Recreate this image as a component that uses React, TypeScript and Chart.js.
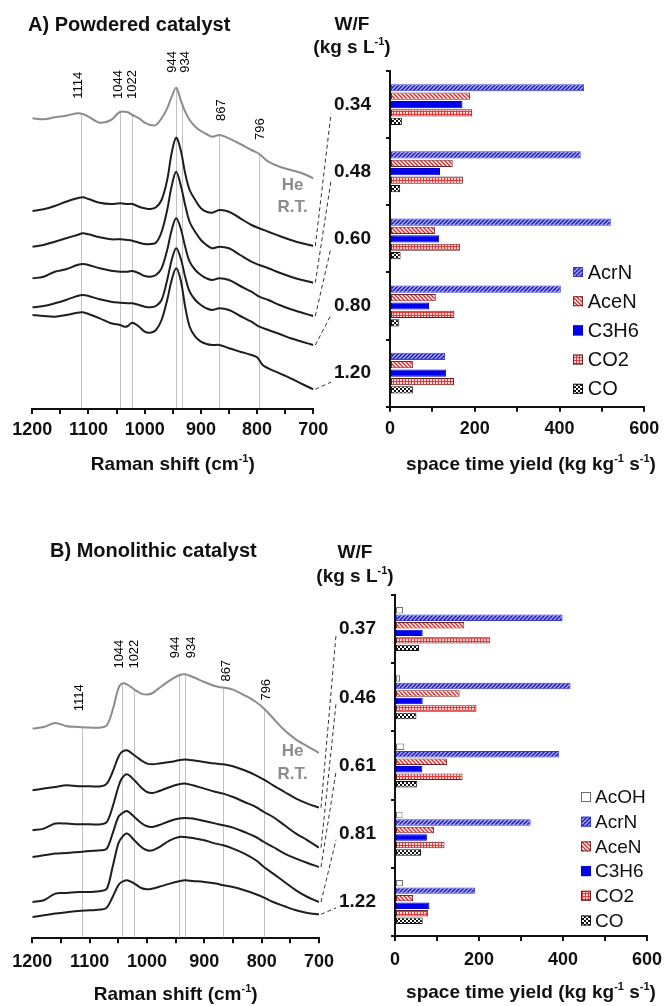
import React, { useEffect, useRef } from 'react';
import { Chart, registerables } from 'chart.js';

Chart.register(...registerables);

const FONT = '"Liberation Sans", Arial, Helvetica, sans-serif';
Chart.defaults.font.family = FONT;
Chart.defaults.color = '#111';

// ================= Panel A: powdered catalyst, Raman spectra =================
const ramanShiftA = [1200, 1180, 1160, 1140, 1120, 1110, 1100, 1080, 1060, 1044, 1030, 1022, 1010, 1000, 990, 980, 970, 960, 952, 944, 936, 928, 920, 910, 900, 890, 880, 867, 850, 830, 810, 796, 780, 760, 740, 720, 700];
const heRtA = [290.7, 289.7, 291.7, 293.3, 295.7, 295, 292.3, 286.3, 289, 297, 296.7, 294, 290.7, 286.3, 284, 284, 290.7, 300.7, 312.3, 321.3, 309, 297.3, 289, 282.3, 278, 275, 272.3, 274, 270.7, 265, 259, 255, 247.3, 242.3, 239, 235.7, 230.7];
const wf034 = [198, 199.7, 203, 207.3, 210.7, 211.7, 210, 206.3, 205, 205.7, 205, 205, 202.3, 200.7, 200, 201.7, 209, 229, 256, 271.3, 259, 235.7, 219, 209, 200.7, 197.3, 196.3, 199, 197.3, 190.7, 184, 180.7, 177.3, 173, 169, 165.7, 163];
const wf048 = [162.3, 164, 167.3, 170.7, 174, 175.7, 174.7, 171.7, 169.7, 169.7, 169, 168.3, 166.3, 165, 165, 166.3, 177, 199, 223, 237.3, 224, 204, 187, 177, 169, 164, 160.7, 162.3, 160.7, 154, 147.3, 144, 140.7, 136.3, 132.3, 129, 126.3];
const wf060 = [130.7, 132.3, 137.3, 139.7, 144, 145, 144, 140.7, 138.3, 137.3, 137.3, 138, 135.7, 133, 132.3, 134, 140.7, 159, 179, 190.7, 180.7, 162.3, 147.3, 139, 134, 130.7, 129, 130.7, 129, 123, 117.3, 112.3, 109, 104, 99.7, 96.3, 93];
const wf080 = [101.7, 103, 105.7, 109, 113, 114, 113, 109.7, 107.3, 106.3, 105.7, 105.7, 104, 102.3, 101.7, 103, 109, 129, 149, 160.7, 150.7, 132.3, 117.3, 109, 104, 100.7, 99, 100.7, 99, 93, 87.3, 82.3, 79, 75, 70.7, 67.3, 64];
const ramanShiftA120 = [1200, 1180, 1160, 1140, 1120, 1110, 1100, 1080, 1060, 1044, 1035, 1030, 1022, 1010, 1000, 990, 980, 970, 960, 952, 944, 936, 928, 920, 910, 900, 890, 880, 867, 850, 830, 810, 800, 790, 780, 760, 740, 720, 700];
const wf120 = [94, 93, 92.3, 94, 96.3, 96.7, 95, 90.7, 85.7, 84, 82.3, 83, 86.3, 82.3, 77.3, 76.3, 79, 89, 109, 129, 140.7, 129, 102.3, 82.3, 72.3, 67.3, 65, 64, 64, 60.7, 57.3, 54, 51.7, 44, 40.7, 35.7, 30.7, 25, 19.7];

// ================= Panel B: monolithic catalyst, Raman spectra =================
const ramanShiftB = [1200, 1180, 1160, 1140, 1120, 1100, 1080, 1070, 1060, 1050, 1044, 1035, 1022, 1010, 1000, 990, 980, 960, 944, 934, 920, 900, 880, 867, 850, 830, 810, 796, 780, 760, 740, 720, 700];
const heRtB = [209.7, 211.3, 215.3, 212, 211.3, 210.7, 210.7, 213, 228, 249.7, 254.7, 254, 248.7, 244.7, 243.7, 245.3, 249.7, 258, 263, 264, 261.3, 256.3, 252, 250.7, 248.7, 243, 236.3, 229.7, 220, 208, 198.7, 192, 185.3];
const wf037 = [148, 149.7, 151.3, 153, 152, 152, 152, 154.7, 166.3, 181.3, 186.3, 188, 183, 178, 174.7, 174, 174.7, 176.3, 178, 178.7, 178, 176.3, 174.7, 174, 172, 168, 163, 158.7, 153, 146.3, 139.7, 134.7, 130.7];
const wf046 = [108, 109.7, 114.7, 114.7, 114, 114, 114, 116.3, 131.3, 151.3, 159.7, 164, 158, 150.7, 146.3, 145.3, 147, 151.3, 154, 154.7, 153, 149.7, 146.3, 144.7, 141.3, 136.3, 131.3, 126.3, 121.3, 113, 104.7, 98, 90.7];
const wf061 = [81.3, 83, 84.7, 85.3, 86.3, 87.3, 88, 89.7, 104.7, 121.3, 124.7, 127.3, 121.3, 115.3, 112, 111.3, 113, 117.3, 119.7, 120.3, 119.7, 117.3, 114.7, 113, 110.7, 106.3, 101.3, 96.3, 91.3, 84.7, 79.7, 75.3, 71.3];
const wf081 = [36.3, 38, 44.7, 45.3, 46.3, 46.3, 47.3, 49.7, 71.3, 94.7, 100.7, 104.7, 98, 91.3, 88, 88, 90.7, 98, 101.3, 101.3, 100.3, 98, 94.7, 93, 89.7, 84.7, 78, 71.3, 64.7, 56.3, 48, 41.3, 36.3];
const wf122 = [21.3, 23, 24.7, 26, 27.3, 28, 28.7, 30.7, 41.3, 53, 56.3, 58, 54.7, 50.3, 49, 49.7, 51.3, 54.7, 57, 58, 57.3, 56.3, 54.7, 53, 51.3, 48, 44, 40.7, 36.3, 32, 28, 25.3, 24];

const peakShifts = [1114, 1044, 1022, 944, 934, 867, 796];
const ramanTickLabels = [1200, 1100, 1000, 900, 800, 700];
const styTickLabels = [0, 200, 400, 600];

// ================= Space time yields (kg kg-1 s-1) =================
const wfLabelsA = ['0.34', '0.48', '0.60', '0.80', '1.20'];
const acrnA = [458, 450, 521, 403, 130];
const acenA = [189, 148, 106, 108, 54];
const c3h6A = [171, 118, 116, 92, 132];
const co2A = [194, 172, 165, 152, 151];
const coA = [28, 24, 25, 22, 54];

const wfLabelsB = ['0.37', '0.46', '0.61', '0.81', '1.22'];
const acohB = [19, 12, 22, 18, 19];
const acrnB = [399, 418, 391, 323, 191];
const acenB = [165, 154, 124, 93, 43];
const c3h6B = [66, 66, 65, 76, 82];
const co2B = [227, 194, 161, 118, 79];
const coB = [57, 51, 53, 62, 66];

// ---------------------------------------------------------------------------
type Seg = { t: string; sup?: boolean };

function drawRich(ctx: CanvasRenderingContext2D, segs: Seg[], cx: number, cy: number, size: number, color = '#111', weight = 'bold') {
  const supSize = Math.round(size * 0.6);
  const fontOf = (g: Seg) => `${weight} ${g.sup ? supSize : size}px ${FONT}`;
  let total = 0;
  for (const g of segs) {
    ctx.font = fontOf(g);
    total += ctx.measureText(g.t).width;
  }
  let x = cx - total / 2;
  ctx.save();
  ctx.fillStyle = color;
  ctx.textAlign = 'left';
  ctx.textBaseline = 'middle';
  for (const g of segs) {
    ctx.font = fontOf(g);
    ctx.fillText(g.t, x, g.sup ? cy - size * 0.32 : cy);
    x += ctx.measureText(g.t).width;
  }
  ctx.restore();
}

function yOnLine(chart: any, dsIndex: number, value: number): number {
  const meta = chart.getDatasetMeta(dsIndex);
  const px = chart.scales.x.getPixelForValue(value);
  const pts = meta.data;
  for (let i = 0; i < pts.length - 1; i++) {
    const a = pts[i];
    const b = pts[i + 1];
    const lo = Math.min(a.x, b.x);
    const hi = Math.max(a.x, b.x);
    if (px >= lo && px <= hi) {
      const t = (px - a.x) / ((b.x - a.x) || 1);
      return a.y + t * (b.y - a.y);
    }
  }
  return chart.chartArea.top;
}

interface PeakLabel { v: number; ref: number; gap: number; dx: number }
interface SpectraSpec {
  series: { x: number[]; y: number[]; color: string }[];
  yMax: number;
  padding: { left: number; right: number; top: number; bottom: number };
  tickPad: number;
  title: string;
  titleX: number;
  titleY: number;
  peakLabels: PeakLabel[];
  he: { x: number; y1: number; y2: number };
  axisTitleY: number;
}

function makeSpectra(canvas: HTMLCanvasElement, spec: SpectraSpec): Chart {
  const decor = {
    id: 'spectraDecor',
    beforeDatasetsDraw(chart: any) {
      const ctx = chart.ctx as CanvasRenderingContext2D;
      const xs = chart.scales.x;
      const bottom = chart.chartArea.bottom - 1;
      ctx.save();
      ctx.strokeStyle = '#c2c2c2';
      ctx.lineWidth = 1;
      for (const v of peakShifts) {
        const px = Math.round(xs.getPixelForValue(v)) + 0.5;
        const top = yOnLine(chart, 0, v);
        ctx.beginPath();
        ctx.moveTo(px, top);
        ctx.lineTo(px, bottom);
        ctx.stroke();
      }
      ctx.restore();
    },
    afterDraw(chart: any) {
      const ctx = chart.ctx as CanvasRenderingContext2D;
      const xs = chart.scales.x;
      const area = chart.chartArea;
      // peak labels
      ctx.save();
      ctx.font = `13px ${FONT}`;
      ctx.fillStyle = '#000';
      for (const p of spec.peakLabels) {
        const px = xs.getPixelForValue(p.v) + p.dx;
        const top = yOnLine(chart, 0, p.ref) - p.gap;
        ctx.save();
        ctx.translate(px, top);
        ctx.rotate(-Math.PI / 2);
        ctx.textAlign = 'left';
        ctx.textBaseline = 'middle';
        ctx.fillText(String(p.v), 0, 0);
        ctx.restore();
      }
      ctx.restore();
      // panel title
      ctx.save();
      ctx.font = `bold 20px ${FONT}`;
      ctx.fillStyle = '#111';
      ctx.textAlign = 'left';
      ctx.textBaseline = 'middle';
      ctx.fillText(spec.title, spec.titleX, spec.titleY);
      // He R.T.
      ctx.font = `bold 17px ${FONT}`;
      ctx.fillStyle = '#8c8c8c';
      ctx.textAlign = 'center';
      ctx.fillText('He', spec.he.x, spec.he.y1);
      ctx.fillText('R.T.', spec.he.x, spec.he.y2);
      ctx.restore();
      // axis title
      drawRich(ctx, [{ t: 'Raman shift (cm' }, { t: '-1', sup: true }, { t: ')' }], (area.left + area.right) / 2, spec.axisTitleY, 19);
    },
  };

  return new Chart(canvas, {
    type: 'line',
    data: {
      datasets: spec.series.map((s) => ({
        data: s.x.map((x, i) => ({ x, y: s.y[i] })),
        borderColor: s.color,
        borderWidth: 2,
        pointRadius: 0,
        tension: 0.35,
        fill: false,
      })),
    },
    options: {
      responsive: false,
      animation: false,
      devicePixelRatio: 1,
      layout: { padding: spec.padding },
      plugins: { legend: { display: false }, tooltip: { enabled: false } },
      scales: {
        x: {
          type: 'linear',
          reverse: true,
          min: 700,
          max: 1200,
          afterFit: (s: any) => { s.height = 40; },
          border: { display: true, color: '#111', width: 2 },
          grid: { drawOnChartArea: false, drawTicks: true, tickLength: 5, color: '#111', lineWidth: 2 },
          ticks: {
            stepSize: 50,
            autoSkip: false,
            maxRotation: 0,
            padding: spec.tickPad,
            color: '#111',
            font: { size: 18, weight: 'bold' },
            callback: (v: any) => (ramanTickLabels.includes(Number(v)) ? String(v) : ''),
          },
        },
        y: { display: false, min: 0, max: spec.yMax },
      },
    } as any,
    plugins: [decor],
  });
}

// ---------------- patterns ----------------
function tile(size: number, draw: (g: CanvasRenderingContext2D) => void): CanvasPattern {
  const c = document.createElement('canvas');
  c.width = size;
  c.height = size;
  const g = c.getContext('2d')!;
  draw(g);
  return g.createPattern(c, 'repeat')!;
}

function makePatterns() {
  const acrn = tile(4, (g) => {
    g.fillStyle = '#c4c4f6';
    g.fillRect(0, 0, 4, 4);
    g.strokeStyle = '#2222c0';
    g.lineWidth = 1.6;
    g.beginPath();
    g.moveTo(0, 4); g.lineTo(4, 0);
    g.moveTo(-1, 1); g.lineTo(1, -1);
    g.moveTo(3, 5); g.lineTo(5, 3);
    g.stroke();
  });
  const acen = tile(4, (g) => {
    g.fillStyle = '#ffffff';
    g.fillRect(0, 0, 4, 4);
    g.strokeStyle = '#e02a2a';
    g.lineWidth = 1.5;
    g.beginPath();
    g.moveTo(0, 0); g.lineTo(4, 4);
    g.moveTo(-1, 3); g.lineTo(1, 5);
    g.moveTo(3, -1); g.lineTo(5, 1);
    g.stroke();
  });
  const co2 = tile(3, (g) => {
    g.fillStyle = '#fcd6d6';
    g.fillRect(0, 0, 3, 3);
    g.fillStyle = '#e53a3a';
    g.fillRect(0, 0, 3, 1);
    g.fillRect(0, 0, 1, 3);
  });
  const co = tile(4, (g) => {
    g.fillStyle = '#ffffff';
    g.fillRect(0, 0, 4, 4);
    g.fillStyle = '#111';
    g.fillRect(0, 0, 2, 2);
    g.fillRect(2, 2, 2, 2);
  });
  return { acrn, acen, co2, co };
}

type Pats = ReturnType<typeof makePatterns>;

function productStyles(p: Pats): Record<string, { bg: any; border: string }> {
  return {
    AcOH: { bg: '#ffffff', border: '#6e6e6e' },
    AcrN: { bg: p.acrn, border: '#3a3ad0' },
    AceN: { bg: p.acen, border: '#6e2a2a' },
    C3H6: { bg: '#0000ee', border: '#0000c8' },
    CO2: { bg: p.co2, border: '#5a2222' },
    CO: { bg: p.co, border: '#111' },
  };
}

interface BarSpec {
  labels: string[];
  series: { name: string; data: number[] }[];
  padding: { left: number; right: number; top: number; bottom: number };
  tickPad: number;
  catPct: number;
  barPct: number;
  legend: { x: number; y: number; step: number; size: number; textGap: number };
  header: { x: number; y1: number; y2: number };
  axisTitle: { x: number; y: number };
  connectorDy: number;
}

function makeBars(canvas: HTMLCanvasElement, spec: BarSpec, pats: Pats, getSpectra: () => Chart): Chart {
  const styles = productStyles(pats);
  const TICK_LEN = 4;
  const TICK_PAD = 15;
  const decor = {
    id: 'barDecor',
    afterDraw(chart: any) {
      const ctx = chart.ctx as CanvasRenderingContext2D;
      const ys = chart.scales.y;
      // legend
      ctx.save();
      spec.series.forEach((s, i) => {
        const st = styles[s.name];
        const cy = spec.legend.y + i * spec.legend.step;
        ctx.fillStyle = st.bg;
        ctx.fillRect(spec.legend.x, cy - 5, 10, 10);
        ctx.strokeStyle = st.border;
        ctx.lineWidth = 1;
        ctx.strokeRect(spec.legend.x + 0.5, cy - 4.5, 9, 9);
        ctx.fillStyle = '#111';
        ctx.font = `${spec.legend.size}px ${FONT}`;
        ctx.textAlign = 'left';
        ctx.textBaseline = 'middle';
        ctx.fillText(s.name, spec.legend.x + 10 + spec.legend.textGap, cy + 1);
      });
      ctx.restore();
      // dashed connectors from the spectra ends to the W/F labels
      const sp: any = getSpectra();
      if (sp) {
        ctx.save();
        ctx.setLineDash([4, 3]);
        ctx.strokeStyle = '#333';
        ctx.lineWidth = 1;
        ctx.font = `bold 19px ${FONT}`;
        spec.labels.forEach((lab, i) => {
          const meta = sp.getDatasetMeta(i + 1);
          const last = meta.data[meta.data.length - 1];
          if (!last) return;
          const cy = ys.getPixelForValue(i);
          const tw = ctx.measureText(lab).width;
          const endX = ys.right - TICK_LEN - TICK_PAD - tw - 3;
          ctx.beginPath();
          ctx.moveTo(last.x + 2, last.y);
          ctx.lineTo(endX, cy + spec.connectorDy);
          ctx.stroke();
        });
        ctx.restore();
      }
      // header W/F
      drawRich(ctx, [{ t: 'W/F' }], spec.header.x, spec.header.y1, 19);
      drawRich(ctx, [{ t: '(kg s L' }, { t: '-1', sup: true }, { t: ')' }], spec.header.x, spec.header.y2, 19);
      // x-axis title
      drawRich(ctx, [{ t: 'space time yield (kg kg' }, { t: '-1', sup: true }, { t: ' s' }, { t: '-1', sup: true }, { t: ')' }], spec.axisTitle.x, spec.axisTitle.y, 19);
    },
  };

  return new Chart(canvas, {
    type: 'bar',
    data: {
      labels: spec.labels,
      datasets: spec.series.map((s) => ({
        label: s.name,
        data: s.data,
        backgroundColor: styles[s.name].bg,
        borderColor: styles[s.name].border,
        borderWidth: 1,
        borderSkipped: false,
        categoryPercentage: spec.catPct,
        barPercentage: spec.barPct,
      })),
    },
    options: {
      indexAxis: 'y',
      responsive: false,
      animation: false,
      devicePixelRatio: 1,
      layout: { padding: spec.padding },
      plugins: { legend: { display: false }, tooltip: { enabled: false } },
      scales: {
        x: {
          type: 'linear',
          min: 0,
          max: 600,
          afterFit: (s: any) => { s.height = 40; },
          border: { display: true, color: '#111', width: 2 },
          grid: { drawOnChartArea: false, drawTicks: true, tickLength: 5, color: '#111', lineWidth: 2 },
          ticks: {
            stepSize: 100,
            autoSkip: false,
            maxRotation: 0,
            padding: spec.tickPad,
            color: '#111',
            font: { size: 18, weight: 'bold' },
            callback: (v: any) => (styTickLabels.includes(Number(v)) ? String(v) : ''),
          },
        },
        y: {
          type: 'category',
          afterFit: (s: any) => { s.width = 60; },
          border: { display: true, color: '#111', width: 2 },
          grid: { drawOnChartArea: false, drawTicks: true, tickLength: TICK_LEN, color: '#111', lineWidth: 2, offset: true },
          ticks: { padding: TICK_PAD, color: '#111', font: { size: 19, weight: 'bold' } },
        },
      },
    } as any,
    plugins: [decor],
  });
}

// ---------------- panel specs ----------------
const spectraSpecA: SpectraSpec = {
  series: [
    { x: ramanShiftA, y: heRtA, color: '#8c8c8c' },
    { x: ramanShiftA, y: wf034, color: '#1e1e1e' },
    { x: ramanShiftA, y: wf048, color: '#1e1e1e' },
    { x: ramanShiftA, y: wf060, color: '#1e1e1e' },
    { x: ramanShiftA, y: wf080, color: '#1e1e1e' },
    { x: ramanShiftA120, y: wf120, color: '#1e1e1e' },
  ],
  yMax: 370,
  padding: { left: 32.3, right: 356.7, top: 39, bottom: 51 },
  tickPad: 5,
  title: 'A) Powdered catalyst',
  titleX: 28,
  titleY: 25,
  peakLabels: [
    { v: 1114, ref: 1114, gap: 15, dx: -2 },
    { v: 1044, ref: 1044, gap: 13, dx: -2 },
    { v: 1022, ref: 1044, gap: 13, dx: 0 },
    { v: 944, ref: 944, gap: 15, dx: -4 },
    { v: 934, ref: 944, gap: 15, dx: 4 },
    { v: 867, ref: 867, gap: 14, dx: 2 },
    { v: 796, ref: 796, gap: 14, dx: 1 },
  ],
  he: { x: 292.5, y1: 185, y2: 207 },
  axisTitleY: 465,
};

const spectraSpecB: SpectraSpec = {
  series: [
    { x: ramanShiftB, y: heRtB, color: '#8c8c8c' },
    { x: ramanShiftB, y: wf037, color: '#1e1e1e' },
    { x: ramanShiftB, y: wf046, color: '#1e1e1e' },
    { x: ramanShiftB, y: wf061, color: '#1e1e1e' },
    { x: ramanShiftB, y: wf081, color: '#1e1e1e' },
    { x: ramanShiftB, y: wf122, color: '#1e1e1e' },
  ],
  yMax: 328.3,
  padding: { left: 32.3, right: 351, top: 110, bottom: 27.7 },
  tickPad: 8,
  title: 'B) Monolithic catalyst',
  titleX: 50,
  titleY: 51.7,
  peakLabels: [
    { v: 1114, ref: 1114, gap: 16, dx: -2 },
    { v: 1044, ref: 1044, gap: 15, dx: -2 },
    { v: 1022, ref: 1044, gap: 15, dx: 0 },
    { v: 944, ref: 944, gap: 17, dx: -4 },
    { v: 934, ref: 944, gap: 17, dx: 7 },
    { v: 867, ref: 867, gap: 6, dx: 3 },
    { v: 796, ref: 796, gap: 8, dx: 2.5 },
  ],
  he: { x: 292.5, y1: 251.7, y2: 274 },
  axisTitleY: 495,
};

const barSpecA: BarSpec = {
  labels: wfLabelsA,
  series: [
    { name: 'AcrN', data: acrnA },
    { name: 'AceN', data: acenA },
    { name: 'C3H6', data: c3h6A },
    { name: 'CO2', data: co2A },
    { name: 'CO', data: coA },
  ],
  padding: { left: 330, right: 25.7, top: 71, bottom: 53.3 },
  tickPad: 7,
  catPct: 0.626,
  barPct: 0.86,
  legend: { x: 573, y: 272, step: 29.2, size: 20, textGap: 4.7 },
  header: { x: 352, y1: 25, y2: 48 },
  axisTitle: { x: 531, y: 465 },
  connectorDy: 9,
};

const barSpecB: BarSpec = {
  labels: wfLabelsB,
  series: [
    { name: 'AcOH', data: acohB },
    { name: 'AcrN', data: acrnB },
    { name: 'AceN', data: acenB },
    { name: 'C3H6', data: c3h6B },
    { name: 'CO2', data: co2B },
    { name: 'CO', data: coB },
  ],
  padding: { left: 335, right: 17.7, top: 95, bottom: 30 },
  tickPad: 8,
  catPct: 0.66,
  barPct: 0.86,
  legend: { x: 581, y: 297, step: 24.7, size: 19, textGap: 4 },
  header: { x: 355, y1: 53, y2: 76.7 },
  axisTitle: { x: 531, y: 493 },
  connectorDy: 6,
};

export default function App() {
  const specA = useRef<HTMLCanvasElement>(null);
  const barA = useRef<HTMLCanvasElement>(null);
  const specB = useRef<HTMLCanvasElement>(null);
  const barB = useRef<HTMLCanvasElement>(null);

  useEffect(() => {
    const pats = makePatterns();
    const sA = makeSpectra(specA.current!, spectraSpecA);
    const bA = makeBars(barA.current!, barSpecA, pats, () => sA);
    const sB = makeSpectra(specB.current!, spectraSpecB);
    const bB = makeBars(barB.current!, barSpecB, pats, () => sB);
    return () => {
      bA.destroy();
      sA.destroy();
      bB.destroy();
      sB.destroy();
    };
  }, []);

  const cv: React.CSSProperties = { position: 'absolute', left: 0, top: 0 };
  return (
    <div style={{ position: 'absolute', left: 0, top: 0, width: 670, height: 1006, background: '#fff', overflow: 'hidden' }}>
      <div style={{ position: 'absolute', left: 0, top: 0, width: 670, height: 500 }}>
        <canvas ref={specA} width={670} height={500} style={cv} />
        <canvas ref={barA} width={670} height={500} style={cv} />
      </div>
      <div style={{ position: 'absolute', left: 0, top: 500, width: 670, height: 506 }}>
        <canvas ref={specB} width={670} height={506} style={cv} />
        <canvas ref={barB} width={670} height={506} style={cv} />
      </div>
    </div>
  );
}
